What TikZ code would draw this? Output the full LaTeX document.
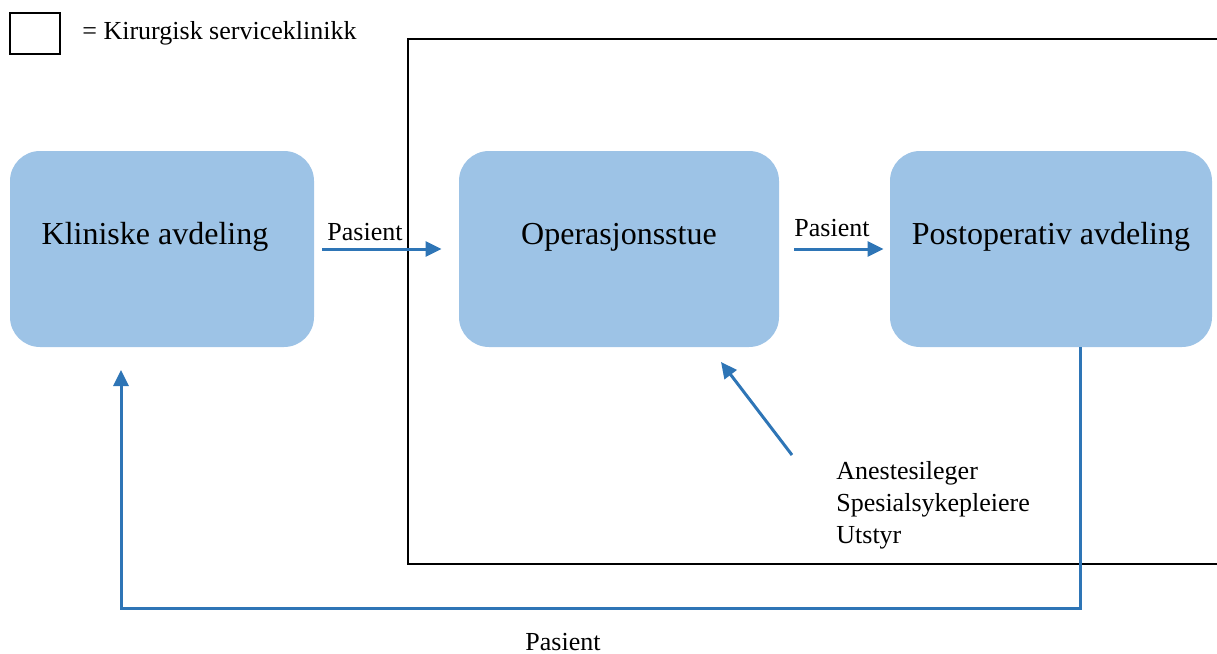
\documentclass[tikz,border=0pt]{standalone}
\usepackage{fontspec}
\setmainfont{Liberation Serif}
\usetikzlibrary{calc, positioning, arrows.meta}
\definecolor{boxblue}{HTML}{9DC3E6}
\definecolor{arrowblue}{HTML}{2E75B6}

\begin{document}
\begin{tikzpicture}[x=0.5pt, y=-0.5pt,
  avd/.style={fill=boxblue, rounded corners=15pt, minimum height=98pt, text height=11pt, text depth=16pt, font=\fontsize{16}{19}\selectfont},
  flyt/.style={draw=arrowblue, line width=1.5pt, -{Triangle[length=8pt,width=7.5pt]}},
  tekst/.style={font=\fontsize{13}{16}\selectfont}]
\useasboundingbox (0,0) rectangle (1217,654);
\draw[line width=1pt] (408,39) rectangle (1240,564);
\node[draw, line width=1pt, minimum width=25pt, minimum height=20.5pt] (legende) at (35,33.5) {};
\node[tekst, anchor=west, inner sep=0pt] (legendetekst) at (82,33) {= Kirurgisk serviceklinikk};
\node[avd, minimum width=152pt] (kliniske) at (162,249) {\kern-7pt Kliniske avdeling};
\node[avd, minimum width=160pt] (opstue) at (619,249) {Operasjonsstue};
\node[avd, minimum width=161pt] (postop) at (1051,249) {Postoperativ avdeling};
\draw[flyt] ([xshift=4pt]kliniske.east) -- ([xshift=-8.5pt]opstue.west);
\draw[flyt] ([xshift=7.5pt]opstue.east) -- ([xshift=-3pt]postop.west);
\node[tekst] (pasient1) at (365,232) {Pasient};
\node[tekst] (pasient2) at (832,228) {Pasient};
%\node[tekst, above=2pt of opstue.south] {};
\coordinate (ressurs) at (792,455);
\coordinate (ressursinn) at (721,362);
\draw[flyt] (ressurs) -- (ressursinn);
\node[tekst, anchor=north west, inner sep=0pt, align=left] (ressurser) at (836,461) {Anestesileger\\Spesialsykepleiere\\Utstyr};
\coordinate (ut) at (1080,347);
\coordinate (bunn) at (600,608);
\coordinate (tilbake) at (121,370);
\draw[flyt] (ut) |- (bunn) -| (tilbake);
\node[tekst] (pasient3) at (563,642) {Pasient};
\end{tikzpicture}
\end{document}
